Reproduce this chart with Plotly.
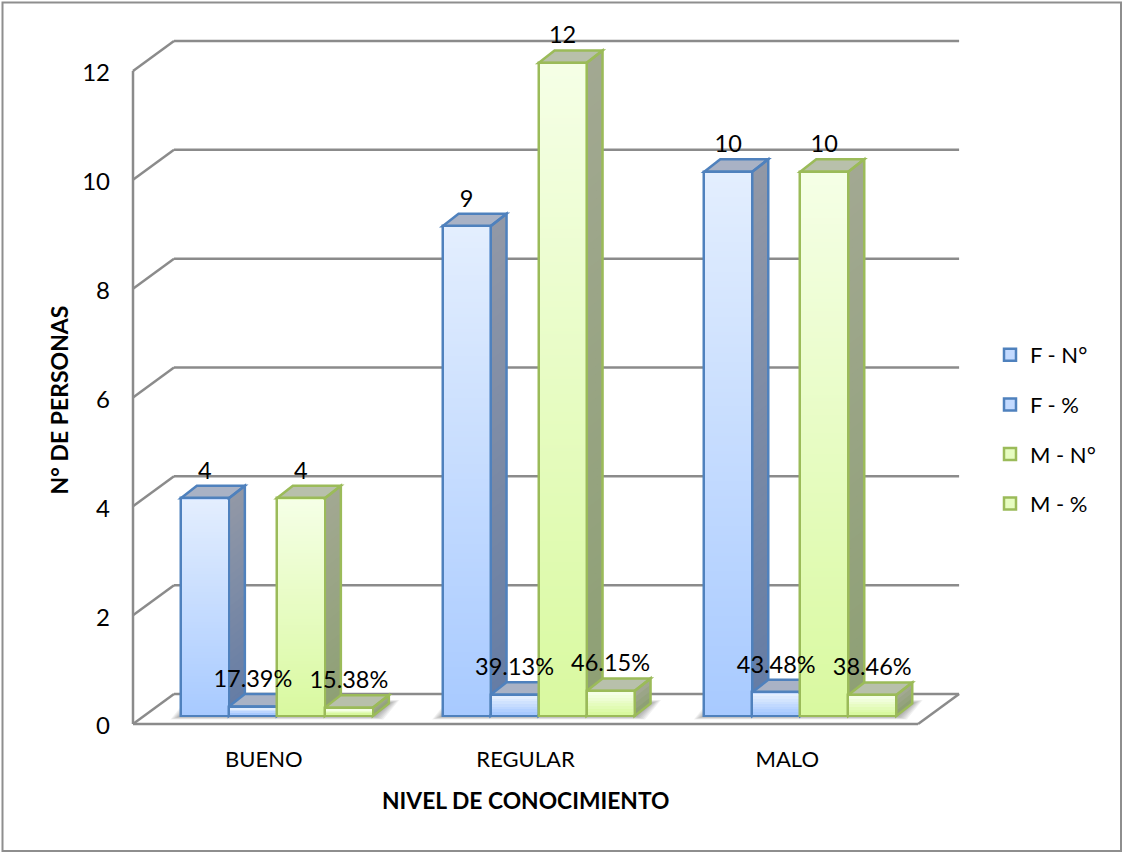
import math
import plotly.graph_objects as go

# Chart data
CATEGORIES = ["BUENO", "REGULAR", "MALO"]
F_COUNT = [4, 9, 10]
F_PERCENT = [17.39, 39.13, 43.48]
M_COUNT = [4, 12, 10]
M_PERCENT = [15.38, 46.15, 38.46]
Y_TICKS = [0, 2, 4, 6, 8, 10, 12]

# Canvas and plot geometry (pixels)
WIDTH, HEIGHT = 1123, 854
AXIS_X, AXIS_Y = 133, 724          # where the front wall meets the floor
LEFT, RIGHT, TOP, BOTTOM = 125, 962, 30, 732
PX_PER_CAT = 261.7
PX_PER_UNIT = 54.42
FONT = "Lato"
GRID = "#8b8b8b"
OUTLINE = 2.5

def px_x(p):
    return p / PX_PER_CAT

def px_y(p):
    return p / PX_PER_UNIT

X_WALL = -0.5
X_MIN = X_WALL - px_x(AXIS_X - LEFT)
X_MAX = X_WALL + px_x(RIGHT - AXIS_X)
Y_MIN = -px_y(BOTTOM - AXIS_Y)
Y_MAX = px_y(AXIS_Y - TOP)
FRONT_END = X_WALL + 3.0
WALL_DX, WALL_DY = px_x(41), px_y(30)
BAR_DX, BAR_DY = px_x(16), px_y(12.5)
BAR_W = px_x(48)
BAR_SHIFT = px_x(13)
FLOOR = px_y(8)

BLUE = dict(line="#4f81bd", front=((227, 238, 254), (168, 202, 255)),
            side=((146, 152, 166), (100, 124, 165)), top="#a9b2c5")
GREEN = dict(line="#9bbb59", front=((245, 255, 230), (217, 249, 160)),
             side=((162, 168, 146), (142, 160, 116)), top="#b8c0ab")

SERIES = [
    ("F - N°", F_COUNT, False, BLUE),
    ("F - %", F_PERCENT, True, BLUE),
    ("M - N°", M_COUNT, False, GREEN),
    ("M - %", M_PERCENT, True, GREEN),
]

def mix(pair, t):
    a, b = pair
    return "rgb(%d,%d,%d)" % tuple(round(a[i] + (b[i] - a[i]) * t) for i in range(3))

def path(points):
    return "M" + " L".join(f"{x:.5f},{y:.5f}" for x, y in points) + " Z"

def poly(points, fill, line=None, width=0, opacity=1.0):
    return dict(type="path", path=path(points), xref="x", yref="y", layer="below",
                fillcolor=fill, opacity=opacity,
                line=dict(color=line or "rgba(0,0,0,0)", width=width))

def seg(p, q, color=GRID, width=2.5):
    return dict(type="line", xref="x", yref="y", layer="below",
                x0=p[0], y0=p[1], x1=q[0], y1=q[1], line=dict(color=color, width=width))

def bar_center(i, k):
    return i + BAR_SHIFT + (k - 1.5) * BAR_W

def bar_value(values, is_pct, i):
    return values[i] / 100 if is_pct else values[i]

def paper_x(p):
    return (p - LEFT) / (RIGHT - LEFT)

def paper_y(p):
    return (BOTTOM - p) / (BOTTOM - TOP)

shapes = []

# Chart-area border
shapes.append(dict(type="rect", xref="paper", yref="paper", layer="below",
                   x0=paper_x(2.5), x1=paper_x(1121), y0=paper_y(851), y1=paper_y(2.5),
                   fillcolor="white", line=dict(color="#8e8e8e", width=2)))

# Walls: oblique and back gridlines for every tick, then the floor outline
shapes.append(seg((X_WALL, 0), (X_WALL, 12)))
for t in Y_TICKS:
    shapes.append(seg((X_WALL, t), (X_WALL + WALL_DX, t + WALL_DY)))
    shapes.append(seg((X_WALL + WALL_DX, t + WALL_DY), (FRONT_END + WALL_DX, t + WALL_DY)))
shapes.append(seg((X_WALL, 0), (FRONT_END, 0)))
shapes.append(seg((FRONT_END, 0), (FRONT_END + WALL_DX, WALL_DY)))

# Soft floor shadow under each bar group
for i in range(len(CATEGORIES)):
    x0 = bar_center(i, 0) - BAR_W / 2
    x1 = bar_center(i, 3) + BAR_W / 2
    for e in range(1, 8):
        ex, ey = px_x(e * 1.5), px_y(e)
        shapes.append(poly([(x0 - ex, FLOOR - ey * 0.5), (x1 + ex, FLOOR - ey * 0.5),
                            (x1 + BAR_DX + ex, FLOOR + BAR_DY + ey * 0.5),
                            (x0 + BAR_DX - ex, FLOOR + BAR_DY + ey * 0.5)],
                           "#000000", opacity=0.055))

# Depth faces, painted left to right so nearer fronts cover them
for i in range(len(CATEGORIES)):
    for k, (_, values, is_pct, style) in enumerate(SERIES):
        v = bar_value(values, is_pct, i)
        xr = bar_center(i, k) + BAR_W / 2
        xl = xr - BAR_W
        # Each gradient step runs down to the floor and the next one paints over it
        bands = max(4, math.ceil(v * PX_PER_UNIT / 8))
        for b in range(bands):
            y_hi = FLOOR + v * (1 - b / bands)
            shapes.append(poly([(xr, FLOOR), (xr + BAR_DX, FLOOR + BAR_DY),
                                (xr + BAR_DX, y_hi + BAR_DY), (xr, y_hi)],
                               mix(style["side"], b / max(bands - 1, 1))))
        top = FLOOR + v
        shapes.append(poly([(xl, top), (xr, top), (xr + BAR_DX, top + BAR_DY),
                            (xl + BAR_DX, top + BAR_DY)], style["top"], style["line"], OUTLINE))
        shapes.append(poly([(xr, FLOOR), (xr + BAR_DX, FLOOR + BAR_DY),
                            (xr + BAR_DX, top + BAR_DY), (xr, top)],
                           "rgba(0,0,0,0)", style["line"], OUTLINE))

fig = go.Figure()

for k, (name, values, is_pct, style) in enumerate(SERIES):
    heights = [bar_value(values, is_pct, i) for i in range(len(CATEGORIES))]
    centers = [bar_center(i, k) for i in range(len(CATEGORIES))]

    # The bar itself, with its outline and legend entry
    fig.add_trace(go.Bar(
        name=name, x=centers, y=heights, base=[FLOOR] * len(heights), width=BAR_W,
        legendgroup=name,
        marker=dict(color=mix(style["front"], 0.55), line=dict(color=style["line"], width=OUTLINE)),
    ))

    # Vertical gradient laid over the front face, inset inside the outline.
    # Steps run from the bottom up, each reaching the bar top and covered by the next.
    bx, by, bb, bc = [], [], [], []
    inset_y = px_y(1.2)
    for cx, h in zip(centers, heights):
        inner = max(h - 2 * inset_y, inset_y)
        bands = max(4, math.ceil(inner * PX_PER_UNIT / 3))
        for b in range(bands):
            bx.append(cx)
            by.append(inner * (1 - b / bands))
            bb.append(FLOOR + inset_y + inner * b / bands)
            bc.append(mix(style["front"], 1 - b / max(bands - 1, 1)))
    fig.add_trace(go.Bar(
        x=bx, y=by, base=bb, width=BAR_W - px_x(2.4), showlegend=False, hoverinfo="skip",
        marker=dict(color=bc, line=dict(width=0)),
    ))

# Value labels above each bar
for k, (name, values, is_pct, style) in enumerate(SERIES):
    fig.add_trace(go.Scatter(
        x=[bar_center(i, k) for i in range(len(CATEGORIES))],
        y=[FLOOR + bar_value(values, is_pct, i) + px_y(25.5) for i in range(len(CATEGORIES))],
        mode="text", showlegend=False, hoverinfo="skip", cliponaxis=False,
        text=[f"{v:.2f}%" if is_pct else str(v) for v in values],
        textposition="middle center",
        textfont=dict(family=FONT, size=23.5, color="black"),
    ))

annotations = [
    dict(text="<b>NIVEL DE CONOCIMIENTO</b>", xref="x", yref="paper", x=1,
         y=paper_y(799.5), xanchor="center", yanchor="middle", showarrow=False,
         font=dict(family=FONT, size=22.8, color="black")),
    dict(text="<b>N° DE PERSONAS</b>", xref="paper", yref="y", x=paper_x(59),
         y=6 - px_y(3), xanchor="center", yanchor="middle", textangle=-90, showarrow=False,
         font=dict(family=FONT, size=23, color="black")),
]

fig.update_layout(
    width=WIDTH, height=HEIGHT,
    margin=dict(l=LEFT, r=WIDTH - RIGHT, t=TOP, b=HEIGHT - BOTTOM, autoexpand=False),
    paper_bgcolor="white", plot_bgcolor="rgba(0,0,0,0)",
    barmode="overlay", bargap=0,
    shapes=shapes, annotations=annotations,
    font=dict(family=FONT, color="black"),
    xaxis=dict(range=[X_MIN, X_MAX], tickmode="array", tickvals=list(range(len(CATEGORIES))),
               ticktext=CATEGORIES, showgrid=False, zeroline=False, showline=False,
               ticks="", ticklabelstandoff=12, tickfont=dict(family=FONT, size=22, color="black")),
    yaxis=dict(range=[Y_MIN, Y_MAX], tickmode="array", tickvals=Y_TICKS, showgrid=False,
               zeroline=False, showline=False, ticks="", ticklabelstandoff=14, ticklabelshift=2,
               tickfont=dict(family=FONT, size=24, color="black")),
    legend=dict(x=paper_x(990), y=paper_y(334), xanchor="left", yanchor="top",
                tracegroupgap=18, font=dict(family=FONT, size=22, color="black"),
                bgcolor="rgba(0,0,0,0)", itemclick=False, itemdoubleclick=False),
    showlegend=True,
)

fig.write_html("out.html", config=dict(displayModeBar=False))
